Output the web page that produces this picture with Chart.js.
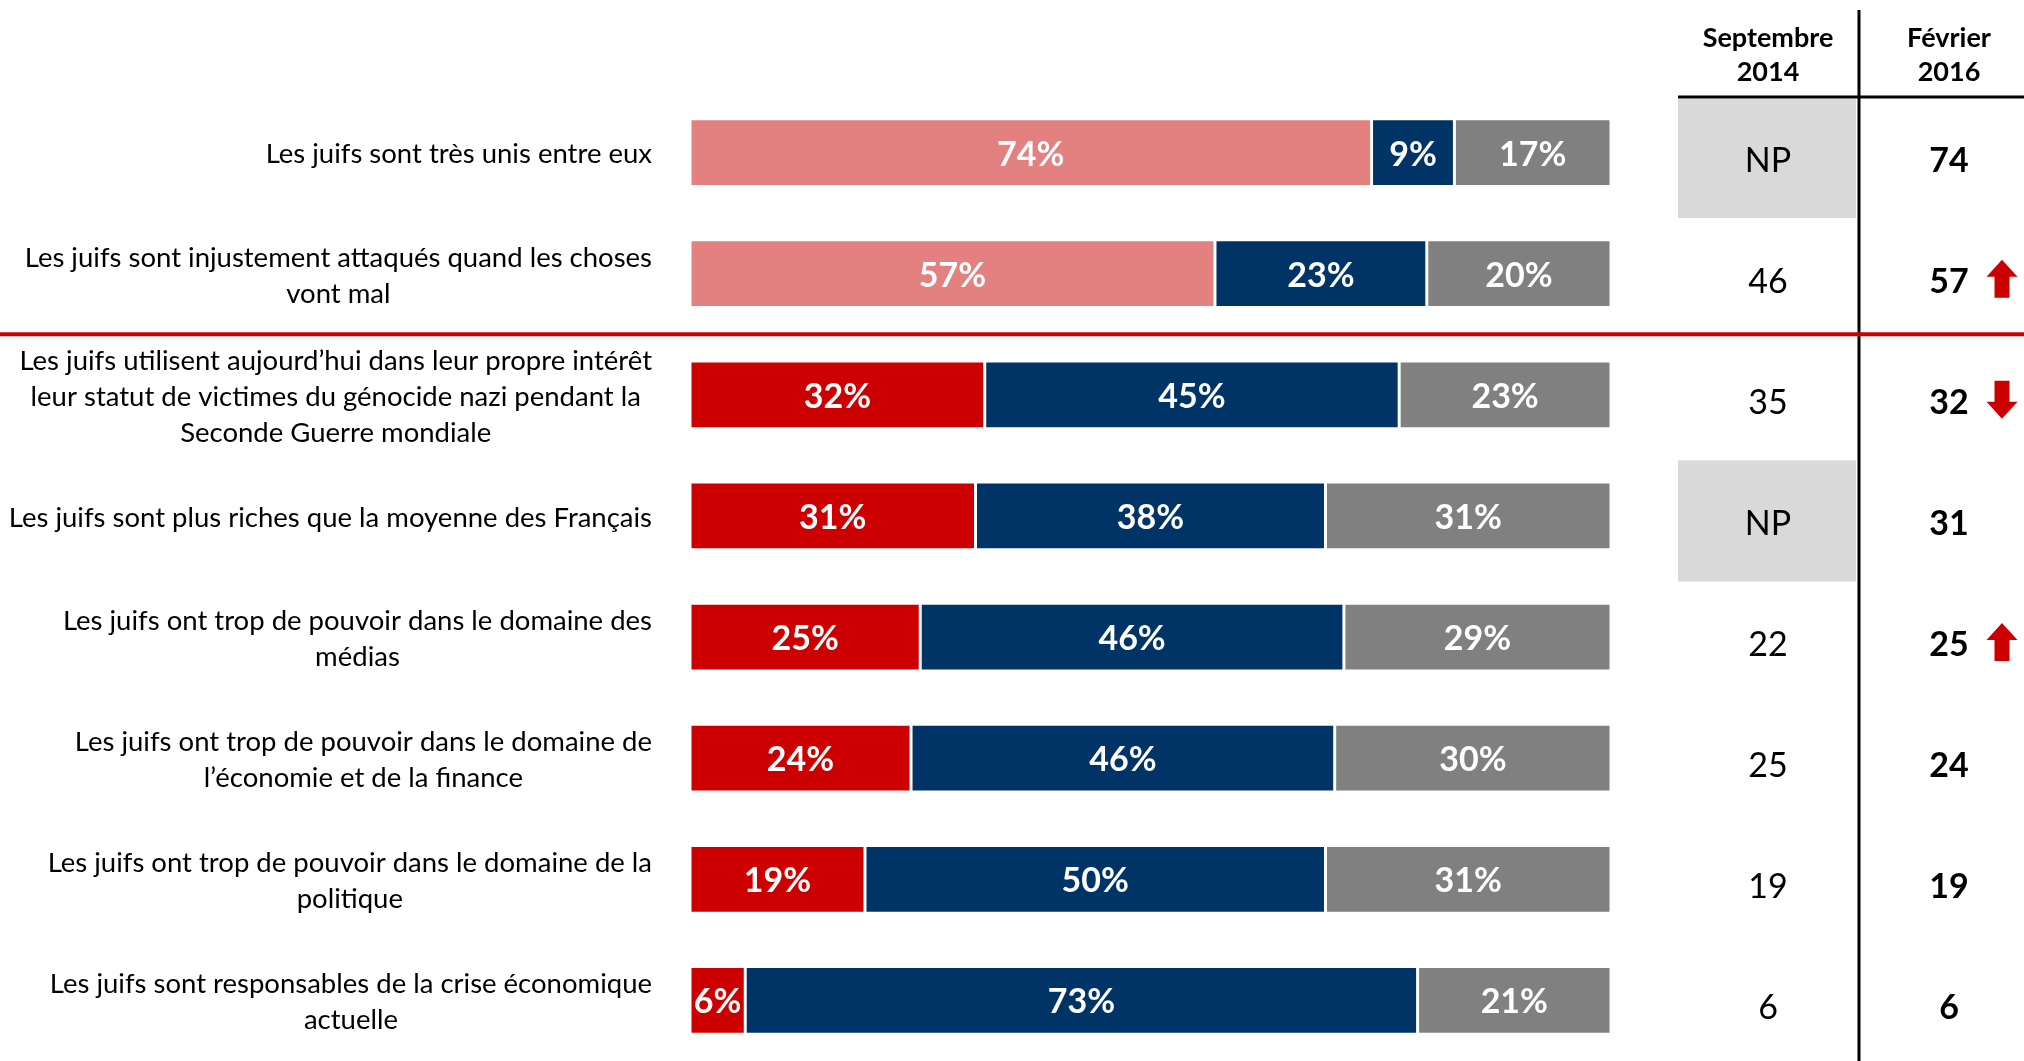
<!DOCTYPE html>
<html>
<head>
<meta charset="utf-8">
<script src="https://cdn.jsdelivr.net/npm/chart.js@4.4.1/dist/chart.umd.min.js"></script>
<style>
  html, body { margin: 0; padding: 0; background: #fff; }
  #wrap { position: relative; width: 2024px; height: 1061px; }
</style>
</head>
<body>
<div id="wrap"><canvas id="opinionChart" width="2024" height="1061"></canvas></div>
<script>
const statements = [
    ['Les juifs sont très unis entre eux'],
    ['Les juifs sont injustement attaqués quand les choses', 'vont mal'],
    ['Les juifs utilisent aujourd\u2019hui dans leur propre intérêt', 'leur statut de victimes du génocide nazi pendant la', 'Seconde Guerre mondiale'],
    ['Les juifs sont plus riches que la moyenne des Français'],
    ['Les juifs ont trop de pouvoir dans le domaine des', 'médias'],
    ['Les juifs ont trop de pouvoir dans le domaine de', 'l\u2019économie et de la finance'],
    ['Les juifs ont trop de pouvoir dans le domaine de la', 'politique'],
    ['Les juifs sont responsables de la crise économique', 'actuelle']
];
const agree = [74, 57, 32, 31, 25, 24, 19, 6];
const disagree = [9, 23, 45, 38, 46, 46, 50, 73];
const noAnswer = [17, 20, 23, 31, 29, 30, 31, 21];
const sept2014 = ['NP', '46', '35', 'NP', '22', '25', '19', '6'];
const fev2016 = ['74', '57', '32', '31', '25', '24', '19', '6'];
const trend = ['', 'up', 'down', '', 'up', '', '', ''];
const columnHeaders = [['Septembre', '2014'], ['Février', '2016']];

const FONT = 'Lato, "Open Sans", sans-serif';
const RED = '#CC0000';
const agreeColors = agree.map((v, i) => i < 2 ? '#E38080' : RED);

// white % labels centred in each segment
const segmentLabels = {
    id: 'segmentLabels',
    afterDatasetsDraw(chart) {
        const ctx = chart.ctx;
        ctx.save();
        ctx.fillStyle = '#fff';
        ctx.font = 'bold 34px ' + FONT;
        ctx.textAlign = 'center';
        ctx.textBaseline = 'middle';
        chart.data.datasets.forEach((ds, di) => {
            chart.getDatasetMeta(di).data.forEach((bar, i) => {
                const { x, y, base } = bar.getProps(['x', 'y', 'base'], true);
                ctx.fillText(ds.data[i] + '%', (x + base) / 2, y + 2);
            });
        });
        ctx.restore();
    }
};

function drawArrow(ctx, cx, cy, dir) {
    const w = 31, h = 38, shaft = 15, head = 17;
    ctx.save();
    ctx.translate(cx, cy);
    if (dir === 'down') ctx.scale(1, -1);
    ctx.beginPath();
    ctx.moveTo(0, -h / 2);
    ctx.lineTo(w / 2, -h / 2 + head);
    ctx.lineTo(shaft / 2, -h / 2 + head);
    ctx.lineTo(shaft / 2, h / 2);
    ctx.lineTo(-shaft / 2, h / 2);
    ctx.lineTo(-shaft / 2, -h / 2 + head);
    ctx.lineTo(-w / 2, -h / 2 + head);
    ctx.closePath();
    ctx.fillStyle = RED;
    ctx.fill();
    ctx.restore();
}

// statements on the left, comparison table on the right
const sideContent = {
    id: 'sideContent',
    beforeDatasetsDraw(chart) {
        const ctx = chart.ctx;
        const yScale = chart.scales.y;
        const step = yScale.getPixelForValue(1) - yScale.getPixelForValue(0);
        ctx.save();
        // grey "NP" cells
        ctx.fillStyle = '#D9D9D9';
        sept2014.forEach((v, i) => {
            if (v !== 'NP') return;
            const top = Math.max(yScale.getPixelForValue(i) - step / 2 + 5, 99);
            ctx.fillRect(1678, top, 178, yScale.getPixelForValue(i) + step / 2 + 5 - top);
        });
        ctx.restore();
    },
    afterDraw(chart) {
        const ctx = chart.ctx;
        const yScale = chart.scales.y;
        ctx.save();

        ctx.fillStyle = '#000';
        ctx.font = '27.5px ' + FONT;
        ctx.textBaseline = 'middle';
        ctx.textAlign = 'center';
        const lineH = 36, rightEdge = 652;
        statements.forEach((lines, i) => {
            const blockW = Math.max(...lines.map(l => ctx.measureText(l).width));
            const cx = rightEdge - blockW / 2;
            const y0 = yScale.getPixelForValue(i) - (lines.length - 1) * lineH / 2 + 2;
            lines.forEach((l, k) => ctx.fillText(l, cx, y0 + k * lineH));
        });

        // headers
        ctx.font = 'bold 27px ' + FONT;
        const colX = [1768, 1949];
        columnHeaders.forEach((h, c) => {
            ctx.fillText(h[0], colX[c], 38);
            ctx.fillText(h[1], colX[c], 72);
        });

        // values
        sept2014.forEach((v, i) => {
            ctx.font = '34px ' + FONT;
            ctx.fillText(v, colX[0], yScale.getPixelForValue(i) + 8);
        });
        fev2016.forEach((v, i) => {
            ctx.font = 'bold 34px ' + FONT;
            ctx.fillText(v, colX[1], yScale.getPixelForValue(i) + 8);
            if (trend[i]) drawArrow(ctx, 2002, yScale.getPixelForValue(i) + 5, trend[i]);
        });

        // table rules
        ctx.strokeStyle = '#000';
        ctx.lineWidth = 3;
        ctx.beginPath();
        ctx.moveTo(1678, 97);
        ctx.lineTo(2024, 97);
        ctx.moveTo(1859, 10);
        ctx.lineTo(1859, 1061);
        ctx.stroke();

        // red separator between rows 2 and 3
        const sepY = (yScale.getPixelForValue(1) + yScale.getPixelForValue(2)) / 2;
        ctx.strokeStyle = RED;
        ctx.lineWidth = 4;
        ctx.beginPath();
        ctx.moveTo(0, sepY);
        ctx.lineTo(2024, sepY);
        ctx.stroke();
        ctx.restore();
    }
};

new Chart(document.getElementById('opinionChart').getContext('2d'), {
    type: 'bar',
    data: {
        labels: statements,
        datasets: [
            { label: "D'accord", data: agree, backgroundColor: agreeColors },
            { label: "Pas d'accord", data: disagree, backgroundColor: '#003466' },
            { label: 'NSP', data: noAnswer, backgroundColor: '#808080' }
        ]
    },
    options: {
        indexAxis: 'y',
        responsive: false,
        animation: false,
        borderColor: '#fff',
        borderWidth: 1.5,
        borderSkipped: false,
        categoryPercentage: 1,
        barPercentage: 0.56,
        layout: { padding: { left: 690, right: 413, top: 92, bottom: 0 } },
        plugins: { legend: { display: false }, tooltip: { enabled: false } },
        scales: {
            x: { stacked: true, min: 0, max: 100, display: false },
            y: { stacked: true, display: false }
        }
    },
    plugins: [segmentLabels, sideContent]
});
</script>
</body>
</html>
